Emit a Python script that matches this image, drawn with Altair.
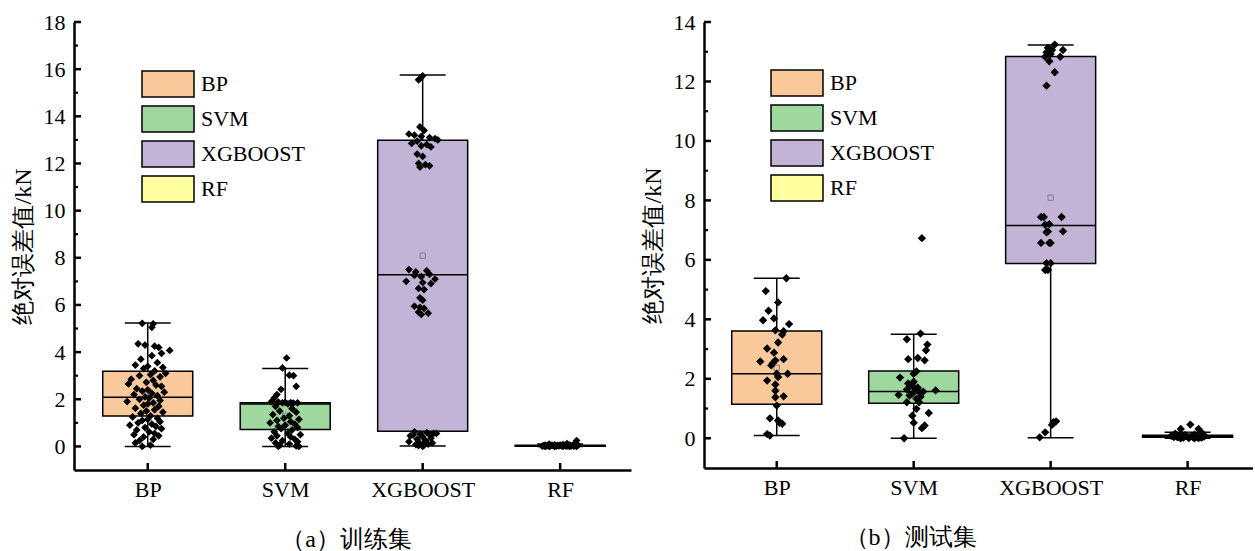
import altair as alt
import pandas as pd

FONT = "Liberation Serif"
MODELS = ["BP", "SVM", "XGBOOST", "RF"]
COLORS = ["#F9C99B", "#9FD89F", "#C2B3D7", "#FFFF9F"]
TICK_LABELS = ["BP", "SVM", "XGBOOST", "RF"]

# ---- box statistics ----
train_min = [0.00, 0.00, 0.02, 0.00]
train_q1 = [1.29, 0.72, 0.64, 0.01]
train_med = [2.09, 1.80, 7.28, 0.03]
train_q3 = [3.19, 1.85, 12.98, 0.05]
train_max = [5.23, 3.30, 15.75, 0.10]
train_mean = [2.30, 1.30, 8.09, 0.04]

test_min = [0.09, 0.00, 0.02, 0.00]
test_q1 = [1.14, 1.18, 5.88, 0.03]
test_med = [2.17, 1.57, 7.16, 0.06]
test_q3 = [3.61, 2.26, 12.84, 0.10]
test_max = [5.38, 3.50, 13.23, 0.20]
test_mean = [2.37, 1.75, 8.09, 0.08]

# ---- individual points (value, jitter in category units) ----
tr_bp_val = [5.22, 5.20, 5.05, 4.35, 4.30, 4.25, 4.20, 4.07, 3.95, 3.85,
             3.70, 3.55, 3.45, 3.40, 3.35, 3.30, 3.20, 3.10, 3.05, 3.00,
             2.95, 2.85, 2.80, 2.72, 2.65, 2.60, 2.55, 2.45, 2.40, 2.35,
             2.30, 2.25, 2.20, 2.15, 2.10, 2.05, 2.00, 1.95, 1.90, 1.85,
             1.80, 1.75, 1.70, 1.62, 1.55, 1.50, 1.45, 1.40, 1.30, 1.25,
             1.20, 1.15, 1.10, 1.05, 1.00, 0.95, 0.90, 0.85, 0.80, 0.75,
             0.70, 0.62, 0.55, 0.50, 0.45, 0.40, 0.30, 0.25, 0.15, 0.05,
             0.00]
tr_bp_jit = [-0.04, 0.04, 0.03, -0.07, -0.02, 0.05, 0.08, 0.16, 0.10, 0.03,
             -0.05, 0.07, -0.09, 0.00, 0.11, -0.03, 0.05, 0.13, 0.02, -0.06,
             0.09, -0.12, 0.04, -0.01, -0.14, 0.06, 0.10, -0.08, 0.00, -0.04,
             0.12, 0.03, -0.10, 0.07, -0.02, 0.01, -0.06, 0.09, -0.15, 0.04,
             0.00, -0.03, 0.08, -0.09, 0.05, -0.01, 0.11, -0.05, 0.02, -0.11,
             0.07, 0.00, -0.04, 0.09, -0.07, 0.03, -0.13, 0.06, -0.02, 0.10,
             -0.08, 0.01, 0.05, -0.10, 0.08, -0.03, 0.04, -0.06, -0.09, 0.02,
             -0.04]

tr_svm_val = [3.75, 3.33, 3.02, 3.00, 2.55, 2.42, 2.20, 2.05, 1.90, 1.88,
              1.87, 1.86, 1.85, 1.85, 1.84, 1.80, 1.70, 1.60, 1.50, 1.45,
              1.35, 1.30, 1.20, 1.15, 1.10, 1.05, 1.00, 0.95, 0.90, 0.85,
              0.80, 0.75, 0.70, 0.62, 0.55, 0.50, 0.45, 0.40, 0.35, 0.30,
              0.25, 0.20, 0.15, 0.10, 0.05, 0.02, 0.00, 0.00]
tr_svm_jit = [0.01, -0.02, 0.03, 0.06, 0.08, -0.03, -0.06, -0.08, -0.10, -0.05,
              0.00, 0.04, 0.09, -0.02, 0.06, 0.02, -0.07, 0.05, -0.04, 0.08,
              -0.09, 0.03, -0.01, 0.10, -0.06, 0.04, -0.11, 0.07, 0.00, -0.05,
              0.09, -0.03, 0.05, -0.08, 0.02, 0.11, -0.06, 0.04, -0.10, 0.07,
              -0.02, 0.09, -0.07, 0.03, -0.04, 0.08, -0.05, 0.10]

tr_xgb_val = [15.72, 15.60, 15.55, 13.55, 13.40, 13.25, 13.20, 13.15, 13.10, 13.05,
              13.00, 12.95, 12.85, 12.80, 12.75, 12.70, 12.40, 12.30, 12.00, 11.95,
              11.90, 11.85,
              7.50, 7.45, 7.40, 7.30, 7.25, 7.20, 7.10, 7.00, 6.95, 6.90,
              6.70, 6.65, 6.30, 6.20, 5.95, 5.90, 5.85, 5.70, 5.65, 5.60,
              0.62, 0.58, 0.55, 0.52, 0.50, 0.45, 0.40, 0.35, 0.30, 0.25,
              0.20, 0.15, 0.12, 0.10, 0.08, 0.05, 0.03, 0.00, 0.55, 0.48]
tr_xgb_jit = [0.00, -0.02, -0.03, -0.02, 0.01, -0.10, -0.06, -0.01, 0.05, 0.09,
              0.11, -0.04, -0.08, 0.03, -0.01, 0.06, -0.04, 0.00, -0.03, 0.02,
              0.05, -0.02,
              -0.10, 0.03, -0.05, 0.05, -0.06, -0.01, 0.09, -0.12, 0.00, 0.06,
              -0.03, 0.01, -0.02, 0.00, -0.06, -0.02, 0.01, -0.03, 0.04, -0.01,
              -0.06, 0.03, 0.08, -0.02, 0.05, -0.09, 0.00, 0.06, -0.04, 0.02,
              -0.10, 0.07, -0.02, 0.04, -0.05, 0.01, -0.03, 0.00, 0.10, -0.07]

tr_rf_val = [0.25, 0.12, 0.10, 0.08, 0.08, 0.07, 0.06, 0.06, 0.05, 0.05,
             0.05, 0.04, 0.04, 0.04, 0.04, 0.03, 0.03, 0.03, 0.03, 0.03,
             0.02, 0.02, 0.02, 0.02, 0.02, 0.01, 0.01, 0.01, 0.01, 0.00,
             0.00, 0.00, 0.00, 0.00, 0.00]
tr_rf_jit = [0.12, 0.05, -0.08, 0.02, 0.10, -0.04, 0.07, -0.11, 0.00, 0.13,
             -0.06, 0.03, -0.09, 0.09, -0.02, 0.06, -0.12, 0.01, 0.11, -0.05,
             -0.07, 0.04, 0.08, -0.10, -0.01, 0.10, -0.03, 0.05, -0.13, 0.02,
             -0.08, 0.07, -0.04, 0.12, -0.11]

te_bp_val = [5.38, 4.95, 4.57, 4.29, 3.97, 4.03, 3.84, 3.63, 3.60, 3.49,
             3.22, 3.02, 2.88, 2.58, 2.66, 2.52, 2.62, 2.45, 2.17, 2.17,
             2.06, 1.94, 1.81, 1.60, 1.41, 1.38, 1.10, 0.67, 0.60, 0.49,
             0.52, 0.14, 0.09]
te_bp_jit = [0.07, -0.08, 0.01, -0.06, -0.10, -0.02, 0.09, -0.01, 0.05, 0.04,
             0.01, -0.07, -0.02, -0.12, 0.05, -0.03, -0.01, -0.04, 0.00, 0.08,
             0.01, -0.07, -0.01, -0.01, 0.05, -0.01, 0.00, -0.05, 0.01, 0.04,
             0.02, -0.07, -0.05]

te_svm_val = [6.73, 3.52, 3.33, 3.15, 2.96, 2.66, 2.70, 2.62, 2.25, 2.17,
              2.04, 1.84, 1.78, 1.67, 1.64, 1.55, 1.46, 1.44, 1.57, 1.61,
              1.33, 1.21, 1.21, 0.99, 0.76, 0.85, 0.52, 0.43, 0.34, 0.00,
              1.70, 1.50, 1.90, 1.40]
te_svm_jit = [0.06, 0.05, -0.05, 0.10, 0.09, -0.04, 0.03, 0.08, 0.02, 0.00,
              -0.10, -0.04, -0.02, 0.01, -0.05, 0.04, -0.11, -0.03, 0.07, 0.16,
              0.02, -0.05, 0.04, 0.02, -0.01, 0.11, 0.00, 0.08, 0.06, -0.07,
              0.03, -0.01, 0.00, 0.05]

te_xgb_val = [13.24, 13.13, 13.06, 13.06, 12.98, 12.92, 12.83, 12.83, 12.68, 12.31,
              11.86, 7.44, 7.44, 7.44, 7.18, 7.20, 6.93, 6.96, 6.95, 6.57,
              6.57, 6.57, 5.89, 5.89, 5.66, 5.66, 0.57, 0.54, 0.45, 0.20,
              0.03]
te_xgb_jit = [0.03, -0.02, 0.01, 0.09, -0.03, 0.00, -0.04, 0.07, -0.01, 0.03,
              -0.03, -0.07, -0.05, 0.08, -0.04, -0.01, -0.03, 0.09, -0.02, -0.07,
              0.00, -0.01, -0.03, 0.00, -0.04, -0.02, 0.04, 0.02, 0.01, -0.04,
              -0.08]

te_rf_val = [0.46, 0.31, 0.31, 0.20, 0.15, 0.12, 0.10, 0.10, 0.09, 0.08,
             0.08, 0.07, 0.07, 0.06, 0.06, 0.05, 0.05, 0.05, 0.04, 0.04,
             0.03, 0.03, 0.02, 0.02, 0.01, 0.01, 0.00, 0.00, 0.08, 0.06]
te_rf_jit = [0.02, -0.05, 0.08, 0.10, -0.09, 0.05, -0.02, 0.12, -0.11, 0.03,
             -0.06, 0.09, -0.01, 0.06, -0.08, 0.11, 0.00, -0.04, 0.07, -0.10,
             0.04, -0.07, 0.10, -0.03, 0.01, 0.08, -0.05, 0.05, -0.12, 0.12]

train_major = [0, 2, 4, 6, 8, 10, 12, 14, 16, 18]
train_minor = [1, 3, 5, 7, 9, 11, 13, 15, 17]
test_major = [0, 2, 4, 6, 8, 10, 12, 14]
test_minor = [1, 3, 5, 7, 9, 11, 13]


def stats_frame(mn, q1, md, q3, mx, mean):
    return pd.DataFrame({"model": MODELS, "idx": [1, 2, 3, 4], "lo": mn, "q1": q1,
                         "med": md, "q3": q3, "hi": mx, "mean": mean})


def points_frame(groups):
    rows = []
    for i, (vals, jits) in enumerate(groups):
        for v, j in zip(vals, jits):
            rows.append({"model": MODELS[i], "pos": i + 1 + j, "val": v})
    return pd.DataFrame(rows)


def panel(stats, pts, ydom, major, minor, width, height, xdom, caption, cap_x,
          leg_x, leg_y, pt_size):
    xs = alt.Scale(domain=xdom, nice=False, zero=False)
    ys = alt.Scale(domain=ydom, nice=False, zero=False)
    xaxis = alt.Axis(values=[1, 2, 3, 4],
                     labelExpr="['','BP','SVM','XGBOOST','RF'][datum.value]",
                     title=caption, titleX=cap_x, titleY=57, titleAlign="center",
                     titleBaseline="top", ticks=False, tickSize=0, labelPadding=9,
                     labelOverlap=False, labelFlush=False,
                     domainWidth=2.5, domainColor="black", grid=False,
                     labelFont=FONT, titleFont=FONT, labelFontSize=22,
                     titleFontSize=24, titleFontWeight="normal",
                     labelColor="black", titleColor="black")
    yaxis = alt.Axis(values=major, title="绝对误差值/kN", titleX=-51,
                     titleBaseline="middle", ticks=False, tickSize=0,
                     labelPadding=9, labelOverlap=False, labelFlush=False,
                     domainWidth=2.5, domainColor="black", grid=False,
                     labelFont=FONT, titleFont=FONT, labelFontSize=22,
                     titleFontSize=24, titleFontWeight="normal",
                     labelColor="black", titleColor="black")

    def X(f):
        return alt.X(f, scale=xs, axis=xaxis)

    def Y(f):
        return alt.Y(f, scale=ys, axis=yaxis)

    whisker = alt.Chart(stats).mark_rule(color="black", strokeWidth=1.5).encode(
        x=X("idx:Q"), y=Y("lo:Q"), y2="hi:Q")
    box = alt.Chart(stats).mark_bar(size=90, stroke="black", strokeWidth=1.5,
                                    opacity=1).encode(
        x=X("idx:Q"), y=Y("q1:Q"), y2="q3:Q",
        color=alt.Color("model:N",
                        scale=alt.Scale(domain=MODELS, range=COLORS),
                        sort=MODELS,
                        legend=alt.Legend(orient="none", legendX=leg_x,
                                          legendY=leg_y, title=None,
                                          symbolType="M-2,-1H2V1H-2Z",
                                          symbolSize=676,
                                          symbolStrokeColor="black",
                                          symbolStrokeWidth=1.5,
                                          symbolOpacity=1,
                                          labelFont=FONT, labelFontSize=22,
                                          labelColor="black", labelOffset=19,
                                          rowPadding=3, padding=0,
                                          labelLimit=300)))
    median = alt.Chart(stats).mark_tick(orient="horizontal", size=90,
                                        thickness=1.5, color="black",
                                        opacity=1).encode(
        x=X("idx:Q"), y=Y("med:Q"))
    caps = alt.Chart(stats).transform_fold(["lo", "hi"], as_=["k", "cap"]).mark_tick(
        orient="horizontal", size=46, thickness=1.5, color="black",
        opacity=1).encode(x=X("idx:Q"), y=Y("cap:Q"))
    mean = alt.Chart(stats).mark_point(shape="square", size=28, filled=False,
                                       color="#85799a", strokeWidth=1,
                                       opacity=1).encode(
        x=X("idx:Q"), y=Y("mean:Q"))
    points = alt.Chart(pts).mark_point(shape="diamond", filled=True,
                                       size=pt_size, color="black",
                                       opacity=1).encode(
        x=X("pos:Q"), y=Y("val:Q"))
    ymaj = alt.Chart(pd.DataFrame({"v": major})).mark_rule(
        color="black", strokeWidth=2.5).encode(
        y=Y("v:Q"), x=alt.value(0), x2=alt.value(7))
    ymin = alt.Chart(pd.DataFrame({"v": minor})).mark_rule(
        color="black", strokeWidth=2.2).encode(
        y=Y("v:Q"), x=alt.value(0), x2=alt.value(4))
    xtk = alt.Chart(pd.DataFrame({"i": [1, 2, 3, 4]})).mark_rule(
        color="black", strokeWidth=2.5).encode(
        x=X("i:Q"), y=alt.value(height), y2=alt.value(height - 7))

    return alt.layer(whisker, box, median, caps, mean, points, ymaj, ymin,
                     xtk).properties(width=width, height=height)


train_stats = stats_frame(train_min, train_q1, train_med, train_q3, train_max, train_mean)
test_stats = stats_frame(test_min, test_q1, test_med, test_q3, test_max, test_mean)
train_pts = points_frame([(tr_bp_val, tr_bp_jit), (tr_svm_val, tr_svm_jit),
                          (tr_xgb_val, tr_xgb_jit), (tr_rf_val, tr_rf_jit)])
test_pts = points_frame([(te_bp_val, te_bp_jit), (te_svm_val, te_svm_jit),
                         (te_xgb_val, te_xgb_jit), (te_rf_val, te_rf_jit)])

left = panel(train_stats, train_pts, [-1, 18], train_major, train_minor,
             557, 448, [0.5, 4.479], "（a）训练集", 272, 80, 48, 60)
right = panel(test_stats, test_pts, [-1, 14], test_major, test_minor,
              549, 446, [0.5054, 4.441], "（b）测试集", 206, 79, 47, 70)

chart = alt.hconcat(left, right, spacing=10).resolve_scale(
    x="independent", y="independent", color="independent"
).resolve_legend(color="independent").configure_view(stroke=None).properties(
    padding={"left": 11, "top": 11, "right": 0, "bottom": 0},
    background="white")

chart.save("out.html", embed_options={"renderer": "svg", "actions": False})
